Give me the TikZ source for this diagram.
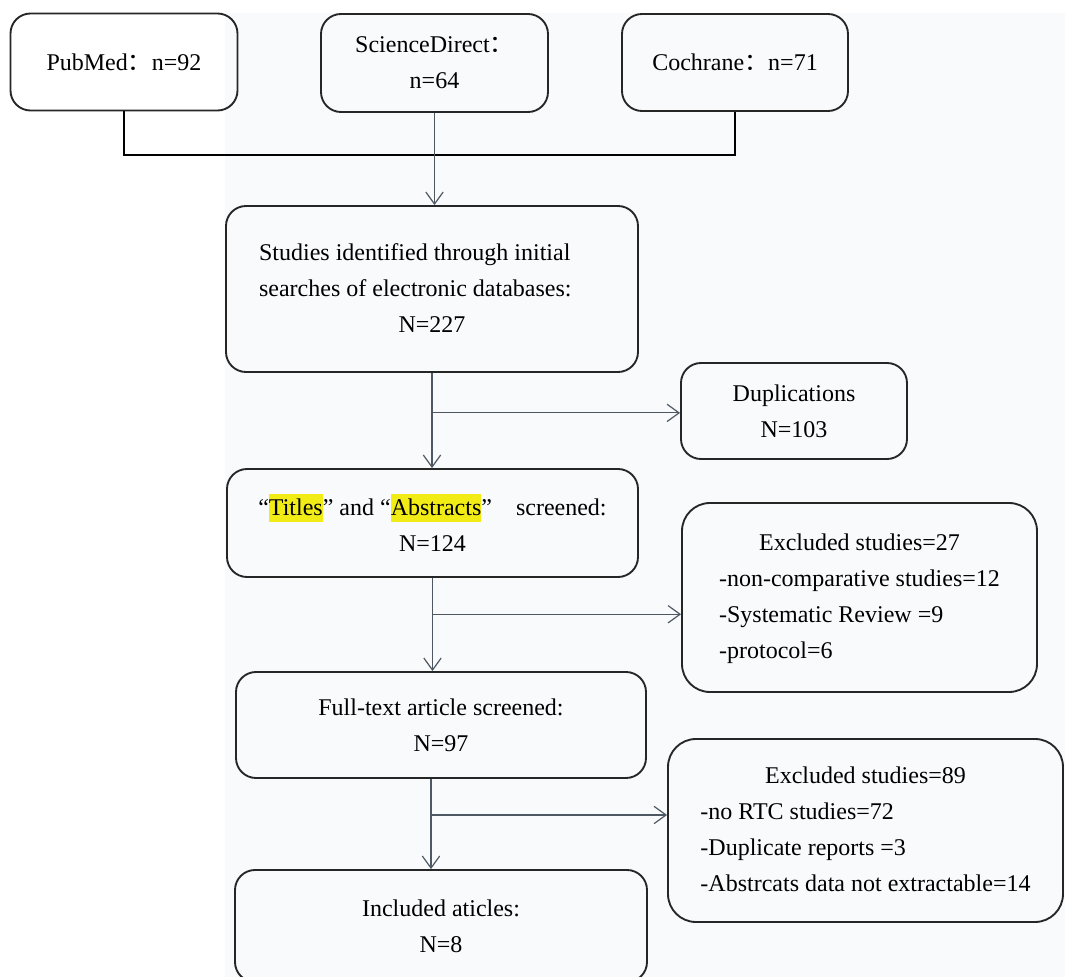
\documentclass[tikz,border=0pt]{standalone}
\usepackage{fontspec}
\setmainfont{Liberation Serif}
\newfontfamily\cjk{Noto Sans CJK SC}
\usetikzlibrary{arrows.meta,positioning,calc}
\definecolor{flowgray}{RGB}{78,88,98}
\definecolor{hlyellow}{RGB}{242,236,22}
\definecolor{bgtint}{RGB}{249,250,252}
\newcommand{\fwc}{{\cjk ：}}
\newcommand{\hlword}[1]{{\setlength{\fboxsep}{0pt}\colorbox{hlyellow}{\rule[-5pt]{0pt}{21pt}#1}}}
\tikzset{box/.style={draw=black!85,line width=1.4pt,rounded corners=15pt,align=center,inner sep=0pt,
    font=\fontsize{18}{27}\selectfont}}
\tikzset{flow/.style={draw=flowgray,line width=0.9pt,-{Straight Barb[length=9pt,width=13pt]}}}
\tikzset{bracket/.style={draw=black,line width=1.6pt}}

\begin{document}
\begin{tikzpicture}[x=0.75pt,y=-0.75pt]
\fill[white] (0,0) rectangle (1065,977);
\fill[bgtint] (225,13) rectangle (1065,977);
\useasboundingbox (0,0) rectangle (1065,977);

% databases
\node[box,minimum width=170.25pt,minimum height=72.75pt] (pubmed) at (124,62) {PubMed\fwc n=92};
\node[box,minimum width=170.25pt,minimum height=73.5pt] (sd) at (434.5,63) {ScienceDirect\fwc\\n=64};
\node[box,minimum width=169.5pt,minimum height=72.75pt] (cochrane) at (735,62.5) {Cochrane\fwc n=71};

% main column
\node[box,minimum width=309pt,minimum height=124.5pt] (studies) at (432,289)
  {\begin{tabular}{@{}l@{\hspace{25pt}}}
   Studies identified through initial\\
   searches of electronic databases:\\
   \multicolumn{1}{@{}c@{}}{N=227}
   \end{tabular}};
\node[box,minimum width=308.25pt,minimum height=81pt] (titles) at (432.5,523)
  {“\hlword{Titles}” and “\hlword{Abstracts}”\hspace{18pt}screened:\\N=124};
\node[box,minimum width=307.5pt,minimum height=79.5pt] (fulltext) at (441,725)
  {Full-text article screened:\\N=97};
\node[box,minimum width=309pt,minimum height=84pt] (included) at (441,926)
  {Included aticles:\\N=8};

% excluded
\node[box,minimum width=169.5pt,minimum height=72pt] (dup) at (794,411) {Duplications\\N=103};
\node[box,rounded corners=21pt,minimum width=266.25pt,minimum height=141.75pt] (excl1) at (859.5,597.5)
  {\begin{tabular}{@{}l@{}}
   \multicolumn{1}{@{}c@{}}{Excluded studies=27}\\
   -non-comparative studies=12\\
   -Systematic Review =9\\
   -protocol=6
   \end{tabular}};
\node[box,rounded corners=21pt,minimum width=296.25pt,minimum height=137.25pt] (excl2) at (865.5,830.5)
  {\begin{tabular}{@{}l@{}}
   \multicolumn{1}{@{}c@{}}{Excluded studies=89}\\
   -no RTC studies=72\\
   -Duplicate reports =3\\
   -Abstrcats data not extractable=14
   \end{tabular}};

% connectors
\draw[bracket] (pubmed.south) -- ++(0,44) -| (cochrane.south);
\draw[flow] (sd.south) -- (sd.south |- studies.north);

\draw[flow] (studies.south) -- (studies.south |- titles.north);
\coordinate (b1) at ($(studies.south)!0.42!(studies.south |- titles.north)$);
\draw[flow] (b1) -- (b1 -| dup.west);

\draw[flow] (titles.south) -- (titles.south |- fulltext.north);
\coordinate (b2) at ($(titles.south)!0.39!(titles.south |- fulltext.north)$);
\draw[flow] (b2) -- (b2 -| excl1.west);

\coordinate (spine) at ([xshift=-7.5pt]fulltext.south);
\draw[flow] (spine) -- (spine |- included.north);
\coordinate (b3) at ($(spine)!0.40!(spine |- included.north)$);
\draw[flow] (b3) -- (b3 -| excl2.west);
\end{tikzpicture}
\end{document}
